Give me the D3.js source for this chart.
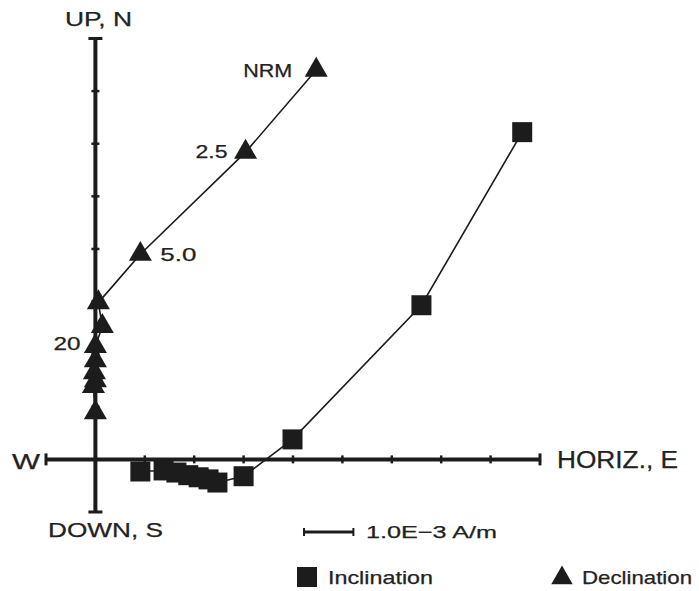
<!DOCTYPE html>
<html><head><meta charset="utf-8">
<script src="https://cdn.jsdelivr.net/npm/d3@7"></script>
<style>
body{margin:0;background:#fff;}
text{font-family:"Liberation Sans",Arial,sans-serif;fill:#222;stroke:#222;stroke-width:0.25px;}
</style></head>
<body><svg id="c" width="699" height="591"></svg>
<script>
// Zijderveld diagram data (units of 1.0E-3 A/m)
const stepLabels = ["NRM","2.5","5.0","","","20","","","","",""];
// Inclination (squares): horizontal E vs vertical UP
const incE  = [8.64, 6.60, 3.99, 3.00, 2.47, 2.29, 2.09, 1.88, 1.64, 1.38, 0.91];
const incUp = [6.22, 2.93, 0.38, -0.32, -0.44, -0.38, -0.34, -0.30, -0.25, -0.21, -0.23];
// Declination (triangles): horizontal E vs vertical N
const decE  = [4.47, 3.04, 0.91, 0.06, 0.14, 0.00, 0.00, -0.02, 0.00, -0.04, 0.00];
const decN  = [7.40, 5.84, 3.90, 2.98, 2.53, 2.15, 1.88, 1.65, 1.50, 1.39, 0.89];
const xTicks = [-1,0,1,2,3,4,5,6,7,8,9];
const yTicks = [-1,0,1,2,3,4,5,6,7,8];

const svg = d3.select("#c");
const x = d3.scaleLinear().domain([-1, 9]).range([46, 540]);
const y = d3.scaleLinear().domain([-1, 8]).range([512, 38.5]);
const ink = "#1c1c1c";

function txt(s, px, py, size, len) {
  const t = svg.append("text").attr("x", px).attr("y", py).attr("font-size", size).text(s);
  if (len) t.attr("textLength", len).attr("lengthAdjust", "spacingAndGlyphs");
  return t;
}

// axes
svg.append("line").attr("x1", x(-1)).attr("x2", x(9)).attr("y1", y(0)).attr("y2", y(0))
  .attr("stroke", ink).attr("stroke-width", 4);
svg.append("line").attr("x1", x(0)).attr("x2", x(0)).attr("y1", y(-1)).attr("y2", y(8))
  .attr("stroke", ink).attr("stroke-width", 4);
// ticks
svg.selectAll(".xt").data(xTicks).enter().append("line")
  .attr("x1", d => x(d)).attr("x2", d => x(d))
  .attr("y1", d => y(0) - ((d === -1 || d === 9) ? 6 : 4))
  .attr("y2", d => y(0) + ((d === -1 || d === 9) ? 6 : 4))
  .attr("stroke", ink).attr("stroke-width", d => (d === -1 || d === 9) ? 3 : 2.5);
svg.selectAll(".yt").data(yTicks).enter().append("line")
  .attr("y1", d => y(d)).attr("y2", d => y(d))
  .attr("x1", d => x(0) - ((d === -1 || d === 8) ? 7 : 4))
  .attr("x2", d => x(0) + ((d === -1 || d === 8) ? 7 : 4))
  .attr("stroke", ink).attr("stroke-width", d => (d === -1 || d === 8) ? 3 : 2.5);

// axis labels
txt("UP, N", 65, 26, 21, 67);
txt("DOWN, S", 48, 537, 21, 115);
txt("W", 12, 469, 22, 28);
txt("HORIZ., E", 557, 468, 23, 121);

const line = d3.line().x(d => x(d[0])).y(d => y(d[1]));

// declination
const decPts = decE.map((e, i) => [e, decN[i]]);
svg.append("path").attr("d", line(decPts)).attr("fill", "none").attr("stroke", ink).attr("stroke-width", 1.6);
const tri = d3.symbol().type(d3.symbolTriangle).size(230);
svg.selectAll(".tri").data(decPts).enter().append("path")
  .attr("d", tri).attr("transform", d => `translate(${x(d[0])},${y(d[1])})`).attr("fill", ink);

// inclination
const incPts = incE.map((e, i) => [e, incUp[i]]);
svg.append("path").attr("d", line(incPts)).attr("fill", "none").attr("stroke", ink).attr("stroke-width", 1.6);
svg.selectAll(".sq").data(incPts).enter().append("rect")
  .attr("x", d => x(d[0]) - 10).attr("y", d => y(d[1]) - 10)
  .attr("width", 20).attr("height", 20).attr("fill", ink);

// step labels
const labPos = [{dx:-73, dy:7, w:49}, {dx:-50, dy:6, w:32}, {dx:20, dy:7, w:36}, null, null, {dx:-42, dy:4, w:27}];
stepLabels.forEach((s, i) => {
  if (!s) return;
  const p = labPos[i];
  txt(s, x(decE[i]) + p.dx, y(decN[i]) + p.dy, 18, p.w);
});

// scale bar (one tick = 1.0E-3 A/m)
const sbY = 532, sbX0 = 304;
svg.append("line").attr("x1", sbX0).attr("x2", sbX0 + (x(1) - x(0))).attr("y1", sbY).attr("y2", sbY)
  .attr("stroke", ink).attr("stroke-width", 3);
[sbX0, sbX0 + (x(1) - x(0))].forEach(v => svg.append("line").attr("x1", v).attr("x2", v)
  .attr("y1", sbY - 4).attr("y2", sbY + 4).attr("stroke", ink).attr("stroke-width", 2));
txt("1.0E\u22123 A/m", 366, 538, 17, 131);

// legend
svg.append("rect").attr("x", 297).attr("y", 567).attr("width", 20).attr("height", 20).attr("fill", ink);
txt("Inclination", 328, 584, 19, 105);
svg.append("path").attr("d", d3.symbol().type(d3.symbolTriangle).size(200))
  .attr("transform", "translate(562,578)").attr("fill", ink);
txt("Declination", 582, 584, 19, 110);
</script></body></html>
